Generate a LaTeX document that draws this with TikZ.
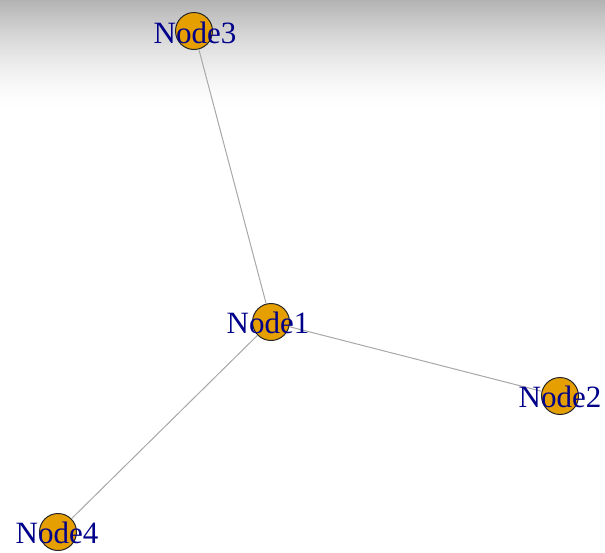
\documentclass[tikz,border=0pt]{standalone}
\usepackage{fontspec}
\setmainfont{Liberation Serif}
\definecolor{vfill}{HTML}{E69F00}
\definecolor{lblue}{HTML}{00008B}
\definecolor{edgec}{HTML}{A8A8A8}
\begin{document}
\begin{tikzpicture}[x=1pt,y=-1pt,
  vtx/.style={circle,draw=black!85,line width=1pt,fill=vfill,minimum size=37pt,inner sep=0pt},
  lbl/.style={text=lblue,font=\fontsize{31}{31}\selectfont,inner sep=0pt},
  edge/.style={draw=edgec,line width=1pt}]
\useasboundingbox (0,0) rectangle (605,552);
\fill[white] (0,0) rectangle (605,552);
\foreach \i in {0,...,109}{
  \pgfmathsetmacro{\shadeval}{30*(1-\i/110)^1.6}
  \fill[black!\shadeval] (0,\i) rectangle (605,\i+1.05);
}
\node[vtx] (n1) at (271,322) {};
\node[vtx] (n2) at (560,396) {};
\node[vtx] (n3) at (194,31) {};
\node[vtx] (n4) at (58,532) {};
\draw[edge] (n1) -- (n2);
\draw[edge] (n1) -- (n3);
\draw[edge] (n1) -- (n4);
\node[lbl] (l1) at (268,323) {Node1};
\node[lbl] (l2) at (560,397) {Node2};
\node[lbl] (l3) at (195,33) {Node3};
\node[lbl] (l4) at (57,533) {Node4};
\end{tikzpicture}
\end{document}
